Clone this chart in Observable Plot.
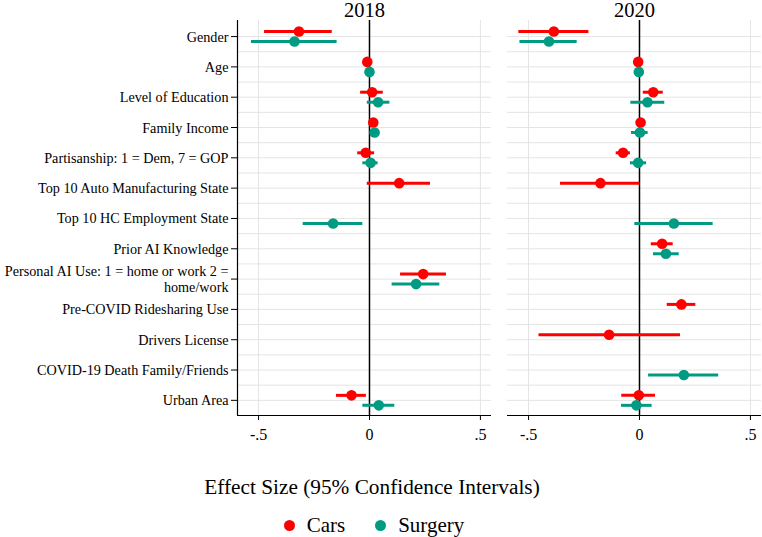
<!DOCTYPE html>
<html>
<head>
<meta charset="utf-8">
<script src="https://cdn.jsdelivr.net/npm/d3@7"></script>
<script src="https://cdn.jsdelivr.net/npm/@observablehq/plot@0.6"></script>
<style>
  body { margin: 0; background: white; font-family: "Liberation Serif", "Times New Roman", serif; color: #000; }
  #wrap { width: 762px; }
  #xtitle { width: 762px; box-sizing: border-box; padding-right: 18px; text-align: center; font-size: 21.3px; line-height: 24px; margin-top: 20px; }
  #legend { width: 762px; box-sizing: border-box; padding-right: 14px; display: flex; justify-content: center; align-items: center; font-size: 21px; line-height: 24px; margin-top: 14px; }
  .sw { display: inline-block; width: 11px; height: 11px; border-radius: 50%; margin-right: 12px; }
  .item { display: flex; align-items: center; margin: 0 15px; }
</style>
</head>
<body>
<div id="wrap">
  <div id="chart"></div>
  <div id="xtitle">Effect Size (95% Confidence Intervals)</div>
  <div id="legend"></div>
</div>
<script>
const categories = [
  "Gender",
  "Age",
  "Level of Education",
  "Family Income",
  "Partisanship: 1 = Dem, 7 = GOP",
  "Top 10 Auto Manufacturing State",
  "Top 10 HC Employment State",
  "Prior AI Knowledge",
  "Personal AI Use: 1 = home or work 2 =\nhome/work",
  "Pre-COVID Ridesharing Use",
  "Drivers License",
  "COVID-19 Death Family/Friends",
  "Urban Area"
];
const years = ["2018", "2020"];
const seriesNames = ["Cars", "Surgery"];
const seriesColors = ["#ff0000", "#009b82"];
const xTicks = [-0.5, 0, 0.5];
const xTickLabels = ["-.5", "0", ".5"];

const cars2018Est = [-0.318, -0.010, 0.012, 0.017, -0.017, 0.134, null, null, 0.242, null, null, null, -0.081];
const cars2018Lo  = [-0.473, -0.016, -0.040, 0.009, -0.053, -0.010, null, null, 0.140, null, null, null, -0.149];
const cars2018Hi  = [-0.168, -0.004, 0.062, 0.025, 0.023, 0.275, null, null, 0.347, null, null, null, -0.014];
const surg2018Est = [-0.338, 0.000, 0.039, 0.023, 0.005, null, -0.164, null, 0.210, null, null, null, 0.042];
const surg2018Lo  = [-0.532, -0.006, -0.010, 0.016, -0.030, null, -0.299, null, 0.102, null, null, null, -0.030];
const surg2018Hi  = [-0.146, 0.006, 0.092, 0.030, 0.039, null, -0.030, null, 0.317, null, null, null, 0.114];
const cars2020Est = [-0.386, -0.006, 0.062, 0.005, -0.074, -0.176, null, 0.102, null, 0.189, -0.137, null, -0.003];
const cars2020Lo  = [-0.544, -0.012, 0.017, -0.002, -0.105, -0.356, null, 0.053, null, 0.125, -0.453, null, -0.080];
const cars2020Hi  = [-0.228, 0.000, 0.107, 0.012, -0.041, 0.002, null, 0.152, null, 0.254, 0.185, null, 0.072];
const surg2020Est = [-0.408, -0.003, 0.036, 0.002, -0.006, null, 0.155, 0.119, null, null, null, 0.200, -0.014];
const surg2020Lo  = [-0.539, -0.009, -0.039, -0.036, -0.041, null, -0.021, 0.063, null, null, null, 0.041, -0.081];
const surg2020Hi  = [-0.281, 0.003, 0.114, 0.039, 0.032, null, 0.332, 0.179, null, null, null, 0.357, 0.057];

const seriesTable = [
  {year: "2018", series: "Cars", est: cars2018Est, lo: cars2018Lo, hi: cars2018Hi},
  {year: "2018", series: "Surgery", est: surg2018Est, lo: surg2018Lo, hi: surg2018Hi},
  {year: "2020", series: "Cars", est: cars2020Est, lo: cars2020Lo, hi: cars2020Hi},
  {year: "2020", series: "Surgery", est: surg2020Est, lo: surg2020Lo, hi: surg2020Hi}
];
const rows = [];
for (const s of seriesTable) {
  s.est.forEach((v, i) => {
    if (v == null) return;
    rows.push({year: s.year, series: s.series, i, est: v, lo: s.lo[i], hi: s.hi[i]});
  });
}
const OFF = 0.165;
const yPos = d => d.i + (d.series === "Cars" ? -OFF : OFF);
const gridY = d3.range(0, 12.01, 0.5);
const XMIN = -0.595, XMAX = 0.55;

const chart = Plot.plot({
  width: 762,
  height: 455,
  marginLeft: 237,
  marginRight: 1,
  marginTop: 20,
  marginBottom: 40,
  style: {fontFamily: "Liberation Serif, Times New Roman, serif", background: "white", color: "#000", overflow: "visible"},
  fx: {domain: years, paddingInner: 0.0593, paddingOuter: 0},
  x: {domain: [XMIN, XMAX]},
  y: {domain: [-0.53, 12.5], reverse: true},
  color: {domain: seriesNames, range: seriesColors},
  marks: [
    Plot.ruleY(gridY, {stroke: "#e4e4e4", strokeWidth: 1}),
    Plot.ruleX([-0.5, 0.5], {stroke: "#e4e4e4", strokeWidth: 1}),
    Plot.ruleX([0], {stroke: "#000", strokeWidth: 1.5}),
    Plot.ruleY([12.5], {stroke: "#000", strokeWidth: 1.2}),
    Plot.ruleX([{year: "2018", x: XMIN}], {x: "x", fx: "year", stroke: "#000", strokeWidth: 1.2}),
    Plot.axisFx({anchor: "top", label: null, tickSize: 0, tickPadding: 4, fontSize: 20.5}),
    Plot.axisX({ticks: xTicks, tickFormat: d => xTickLabels[xTicks.indexOf(d)], tickSize: 5, tickPadding: 8, fontSize: 16, label: null}),
    Plot.axisY({ticks: d3.range(categories.length), tickFormat: i => categories[i], tickSize: 6, tickPadding: 3, fontSize: 14.2, lineHeight: 1.1, label: null}),
    Plot.ruleY(rows, {y: yPos, x1: "lo", x2: "hi", stroke: "series", strokeWidth: 3, fx: "year"}),
    Plot.dot(rows, {x: "est", y: yPos, r: 5.3, fill: "series", fx: "year"})
  ]
});
document.getElementById("chart").appendChild(chart);

const legend = document.getElementById("legend");
seriesNames.forEach((name, k) => {
  const item = document.createElement("span");
  item.className = "item";
  const sw = document.createElement("span");
  sw.className = "sw";
  sw.style.background = seriesColors[k];
  item.appendChild(sw);
  item.appendChild(document.createTextNode(name));
  legend.appendChild(item);
});
</script>
</body>
</html>
